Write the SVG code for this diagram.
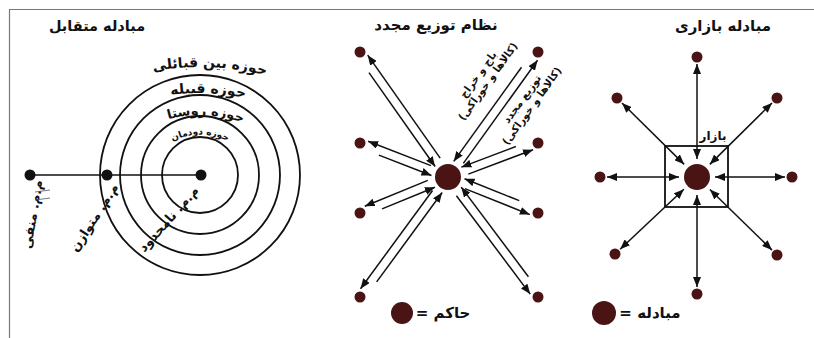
<svg xmlns="http://www.w3.org/2000/svg" width="814" height="338" viewBox="0 0 814 338">
<style>
.t{font-family:"DejaVu Sans",sans-serif;font-weight:bold;fill:#111}
.c{fill:none;stroke:#111;stroke-width:1.8}
.ln{stroke:#111;stroke-width:1.5;fill:none}
.a{stroke:#111;stroke-width:1.5;fill:none;marker-end:url(#ah)}
.b{stroke:#111;stroke-width:1.5;fill:none;marker-end:url(#ah);marker-start:url(#ah)}
.m{fill:#4a1414}
</style>
<defs>
<marker id="ah" viewBox="0 0 10 8" refX="10" refY="4" markerWidth="10" markerHeight="8" markerUnits="userSpaceOnUse" orient="auto-start-reverse"><path d="M0,0 L10,4 L0,8 z" fill="#111"/></marker>
<path id="arc1" d="M-60,327 A260,260 0 0 1 460,327"/>
<path id="arc2" d="M0,293 A200,200 0 0 1 400,293"/>
<path id="arc3" d="M80,235 A120,120 0 0 1 320,235"/>
<path id="arc4" d="M140,194.5 A60,60 0 0 1 260,194.5"/>
</defs>
<rect width="814" height="338" fill="#fff"/>
<g id="frame"><path d="M9.5,338 V9.5 H814" fill="none" stroke="#777" stroke-width="1.2"/></g>

<!-- Left panel -->
<g id="left-panel">
<text class="t" x="97" y="31" font-size="14.5" text-anchor="middle">مبادله متقابل</text>
<g id="circles">
<circle class="c" cx="200" cy="175" r="100"/>
<circle class="c" cx="200" cy="175" r="80"/>
<circle class="c" cx="200" cy="175" r="59"/>
<circle class="c" cx="200" cy="175" r="38"/>
</g>
<text class="t" font-size="14"><textPath href="#arc1" startOffset="51.2%" text-anchor="middle">حوزه بین قبائلی</textPath></text>
<text class="t" font-size="14"><textPath href="#arc2" startOffset="51.3%" text-anchor="middle">حوزه قبیله</textPath></text>
<text class="t" font-size="13"><textPath href="#arc3" startOffset="51.5%" text-anchor="middle">حوزه روستا</textPath></text>
<text class="t" font-size="9" font-weight="normal"><textPath href="#arc4" startOffset="50%" text-anchor="middle">حوزه دودمان</textPath></text>
<line class="ln" x1="30" y1="175" x2="201" y2="175"/>
<g id="node-neg"><circle cx="30" cy="175" r="5.5" fill="#111"/>
<text class="t" font-size="13" transform="translate(37,215) rotate(-80)" text-anchor="middle">م.م. منفی</text>
<path d="M35,192 L50,190 M35,200 L50,198" stroke="#555" stroke-width="0.8"/></g>
<g id="node-bal"><circle cx="107" cy="175" r="5.5" fill="#111"/>
<text class="t" font-size="13" transform="translate(98,220) rotate(-57)" text-anchor="middle">م.م. متوازن</text></g>
<g id="node-unl"><circle cx="201" cy="175" r="5.5" fill="#111"/>
<text class="t" font-size="13" transform="translate(172,222) rotate(-48)" text-anchor="middle">م.م. نامحدود</text></g>
</g>

<!-- Middle panel -->
<g id="mid-panel">
<text class="t" x="436" y="30" font-size="15" text-anchor="middle">نظام توزیع مجدد</text>
<g id="ruler"><circle class="m" cx="448" cy="177" r="13"/></g>
<g id="m1"><circle class="m" cx="360" cy="52" r="5.5"/></g>
<g id="m2"><circle class="m" cx="538" cy="52" r="5.5"/></g>
<g id="m3"><circle class="m" cx="538" cy="143" r="5.5"/></g>
<g id="m4"><circle class="m" cx="538" cy="213" r="5.5"/></g>
<g id="m5"><circle class="m" cx="538" cy="297" r="5.5"/></g>
<g id="m6"><circle class="m" cx="360" cy="297" r="5.5"/></g>
<g id="m7"><circle class="m" cx="360" cy="213" r="5.5"/></g>
<g id="m8"><circle class="m" cx="360" cy="143" r="5.5"/></g>
<g id="legend-ruler"><circle class="m" cx="402" cy="313" r="11"/>
<text class="t" x="443" y="318" font-size="15" text-anchor="middle">= حاکم</text></g>
<g id="label-tribute" transform="translate(490,83) rotate(-54.2)">
<text class="t" font-size="10.5" text-anchor="middle" y="-11">باج و خراج</text>
<text class="t" font-size="10.5" text-anchor="middle" y="1">(کالاها و خوراکی)</text>
</g>
<g id="label-redist" transform="translate(525,101) rotate(-54.2)">
<text class="t" font-size="10.5" text-anchor="middle" y="0">توزیع مجدد</text>
<text class="t" font-size="10.5" text-anchor="middle" y="12">(کالاها و خوراکی)</text>
</g>
</g>

<!-- Right panel -->
<g id="right-panel">
<text class="t" x="723" y="31" font-size="15" text-anchor="middle">مبادله بازاری</text>
<g id="market"><rect x="665" y="146" width="63" height="61" fill="none" stroke="#111" stroke-width="1.8"/>
<text class="t" x="713" y="140" font-size="12" text-anchor="middle">بازار</text>
<circle class="m" cx="697" cy="177" r="13"/></g>
<g id="r1"><circle class="m" cx="697" cy="57" r="5.5"/></g>
<g id="r2"><circle class="m" cx="617" cy="98" r="5.5"/></g>
<g id="r3"><circle class="m" cx="777" cy="98" r="5.5"/></g>
<g id="r4"><circle class="m" cx="600" cy="177" r="5.5"/></g>
<g id="r5"><circle class="m" cx="792" cy="177" r="5.5"/></g>
<g id="r6"><circle class="m" cx="615" cy="254" r="5.5"/></g>
<g id="r7"><circle class="m" cx="777" cy="255" r="5.5"/></g>
<g id="r8"><circle class="m" cx="697" cy="294" r="5.5"/></g>
<g id="legend-exchange"><circle class="m" cx="604" cy="313" r="12"/>
<text class="t" x="650" y="318" font-size="15" text-anchor="middle">= مبادله</text></g>
</g>

<g id="connectors">
<line class="a" x1="440.17" y1="158.06" x2="367.71" y2="55.13"/>
<line class="a" x1="368.98" y1="72.58" x2="435.11" y2="166.51"/>
<line class="a" x1="463.34" y1="163.40" x2="537.56" y2="60.31"/>
<line class="a" x1="521.50" y1="67.22" x2="453.70" y2="161.39"/>
<line class="a" x1="468.30" y1="174.14" x2="533.04" y2="149.68"/>
<line class="a" x1="515.83" y1="146.56" x2="461.38" y2="167.14"/>
<line class="a" x1="464.90" y1="188.61" x2="529.83" y2="214.58"/>
<line class="a" x1="519.24" y1="200.65" x2="464.53" y2="178.76"/>
<line class="a" x1="456.4" y1="195.7" x2="530.2" y2="294.1"/>
<line class="a" x1="528.4" y1="276.7" x2="461.2" y2="187.1"/>
<line class="a" x1="432.54" y1="190.47" x2="360.51" y2="288.69"/>
<line class="a" x1="376.64" y1="281.92" x2="442.17" y2="192.56"/>
<line class="a" x1="427.79" y1="180.41" x2="364.78" y2="206.19"/>
<line class="a" x1="382.06" y1="208.83" x2="434.89" y2="187.22"/>
<line class="a" x1="430.96" y1="165.59" x2="368.15" y2="141.32"/>
<line class="a" x1="378.90" y1="155.13" x2="431.46" y2="175.43"/>

<line class="b" x1="697" y1="159" x2="697" y2="64"/>
<line class="b" x1="684.19" y1="164.35" x2="621.98" y2="102.92"/>
<line class="b" x1="709.81" y1="164.35" x2="772.02" y2="102.92"/>
<line class="b" x1="679" y1="177" x2="607" y2="177"/>
<line class="b" x1="715" y1="177" x2="785" y2="177"/>
<line class="b" x1="683.88" y1="189.32" x2="620.10" y2="249.21"/>
<line class="b" x1="709.89" y1="189.57" x2="771.99" y2="250.11"/>
<line class="b" x1="697" y1="195" x2="697" y2="287"/>
</g>
</svg>
